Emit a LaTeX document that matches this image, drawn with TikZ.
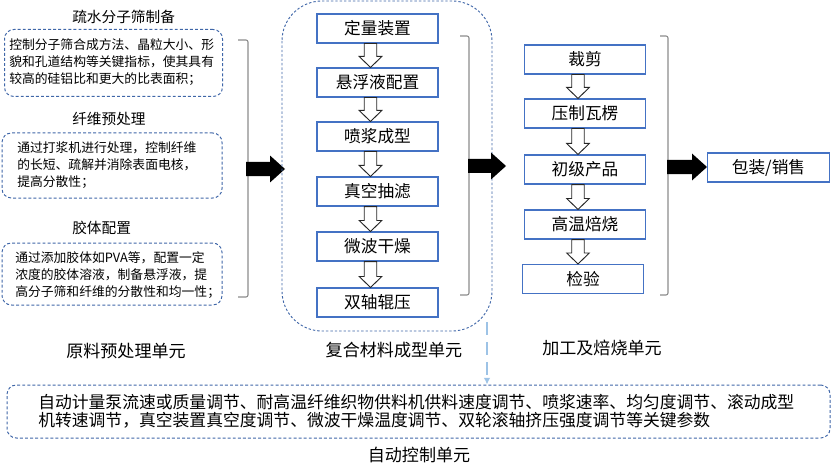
\documentclass[tikz,border=0pt]{standalone}
\usepackage{fontspec}
\setmainfont{Noto Sans CJK SC}
\usetikzlibrary{calc,arrows.meta}
\definecolor{dashblue}{HTML}{3F66A8}
\definecolor{boxblue}{HTML}{4472C4}
\definecolor{lightblue}{HTML}{9DC3E6}
\definecolor{brk}{HTML}{8C8C8C}
\tikzset{
  procbox/.style={draw=boxblue,line width=0.8pt,fill=white,minimum width=90.75pt,minimum height=21.75pt,inner sep=0pt,font=\fontsize{12.5}{14}\selectfont},
  dbox/.style={draw=dashblue,dash pattern=on 2.2pt off 1.6pt,line width=0.75pt,rounded corners=7pt,inner sep=0pt},
  ttl/.style={font=\fontsize{11}{13}\selectfont,anchor=west,inner sep=0pt},
  smalltxt/.style={font=\fontsize{9.6}{12.8}\selectfont,anchor=west,align=left,inner sep=0pt},
  unitlbl/.style={font=\fontsize{12.8}{14}\selectfont,inner sep=0pt},
  harr/.style={draw=black!85,line width=0.7pt,fill=white},
  barr/.style={fill=black,draw=none},
  brack/.style={draw=brk,line width=0.8pt,rounded corners=1.5pt},
}
\newcommand\hollowdown[2]{%
  \draw[harr] let \p1=($(#1.south)+(-5.25pt,0)$), \p2=(#2.north) in
   (\x1-4.7pt,\y1) -- (\x1+4.7pt,\y1) -- (\x1+4.7pt,\y2+8.25pt) -- (\x1+8.5pt,\y2+8.25pt)
   -- (\x1,\y2) -- (\x1-8.5pt,\y2+8.25pt) -- (\x1-4.7pt,\y2+8.25pt) -- cycle;}
\newcommand\blackright[2]{%
  \fill[barr] let \p1=(#1), \p2=(#2) in
   (\x1,\y1+5.25pt) -- (\x2-11.25pt,\y1+5.25pt) -- (\x2-11.25pt,\y1+10.1pt) -- (\x2,\y1)
   -- (\x2-11.25pt,\y1-10.1pt) -- (\x2-11.25pt,\y1-5.25pt) -- (\x1,\y1-5.25pt) -- cycle;}
\begin{document}
\begin{tikzpicture}[x=0.75pt,y=-0.75pt]
\useasboundingbox (0,0) rectangle (831,474);

% ---------- left column ----------
\node[ttl] (t1) at (72,17) {疏水分子筛制备};
\node[dbox,minimum width=163.5pt,minimum height=50.25pt] (lb1) at (113.5,63) {};
\node[smalltxt] (lt1) at (9,62) {控制分子筛合成方法、晶粒大小、形\\貌和孔道结构等关键指标，使其具有\\较高的硅铝比和更大的比表面积；};

\node[ttl] (t2) at (72,119) {纤维预处理};
\node[dbox,minimum width=165pt,minimum height=48.75pt] (lb2) at (112,165.5) {};
\node[smalltxt] (lt2) at (17,165) {通过打浆机进行处理，控制纤维\\的长短、疏解并消除表面电核，\\提高分散性；};

\node[ttl] (t3) at (72,228) {胶体配置};
\node[dbox,minimum width=165pt,minimum height=46.5pt] (lb3) at (112,274) {};
\node[smalltxt] (lt3) at (15,275) {通过添加胶体如PVA等，配置一定\\浓度的胶体溶液，制备悬浮液，提\\高分子筛和纤维的分散性和均一性；};

\node[unitlbl] (u1) at (126,351) {原料预处理单元};

% left bracket
\coordinate (lbT) at (248,40);
\coordinate (lbB) at (248,297);
\draw[brack] (238,40) -- (lbT) -- (lbB) -- (238,297);
\coordinate (a1s) at (246,169);
\coordinate (a1e) at (285,169);
\blackright{a1s}{a1e}

% ---------- middle column ----------
\draw[dashblue,dash pattern=on 1.8pt off 1.5pt,line width=0.7pt,rounded corners=30pt] (282,1) rectangle (492,331);
\node[procbox] (m1) at (377.5,28.5) {定量装置};
\node[procbox] (m2) at (377.5,82.5) {悬浮液配置};
\node[procbox] (m3) at (377.5,136.5) {喷浆成型};
\node[procbox] (m4) at (377.5,191.5) {真空抽滤};
\node[procbox] (m5) at (377.5,246.5) {微波干燥};
\node[procbox] (m6) at (377.5,302.5) {双轴辊压};
\hollowdown{m1}{m2}
\hollowdown{m2}{m3}
\hollowdown{m3}{m4}
\hollowdown{m4}{m5}
\hollowdown{m5}{m6}
\node[unitlbl] (u2) at (394,350) {复合材料成型单元};

% middle bracket
\draw[brack] (460,36) -- (469,36) -- (469,295) -- (460,295);
\coordinate (a2s) at (468,166);
\coordinate (a2e) at (506,166);
\blackright{a2s}{a2e}

% ---------- right column ----------
\node[procbox] (r1) at (585,59.5) {裁剪};
\node[procbox] (r2) at (585,113.5) {压制瓦楞};
\node[procbox] (r3) at (585,169.5) {初级产品};
\node[procbox] (r4) at (585,224.5) {高温焙烧};
\node[procbox] (r5) at (583,279) {检验};
\hollowdown{r1}{r2}
\hollowdown{r2}{r3}
\hollowdown{r3}{r4}
\hollowdown{r4}{r5}
\node[unitlbl] (u3) at (602,348) {加工及焙烧单元};

% right bracket
\draw[brack] (660,36) -- (668,36) -- (668,295) -- (660,295);
\coordinate (a3s) at (667,167);
\coordinate (a3e) at (707,167);
\blackright{a3s}{a3e}
\node[procbox,minimum width=91.5pt] (pk) at (768.5,167.5) {包装/销售};

% ---------- bottom ----------
\node[dbox,minimum width=617.25pt,minimum height=39.75pt] (bb) at (418.5,411.5) {};
\coordinate (dvs) at (487,322);
\draw[lightblue,line width=1.6pt,dash pattern=on 10pt off 5pt,-{Latex[length=5pt,width=5pt]}] (dvs) -- (bb.north -| dvs);
\node[font=\fontsize{12.6}{13.6}\selectfont,anchor=west,align=left,inner sep=0pt] (bt) at (38,411.5) {自动计量泵流速或质量调节、耐高温纤维织物供料机供料速度调节、喷浆速率、均匀度调节、滚动成型\\机转速调节，真空装置真空度调节、微波干燥温度调节、双轮滚轴挤压强度调节等关键参数};
\node[unitlbl] (u4) at (419,455) {自动控制单元};
\end{tikzpicture}
\end{document}
